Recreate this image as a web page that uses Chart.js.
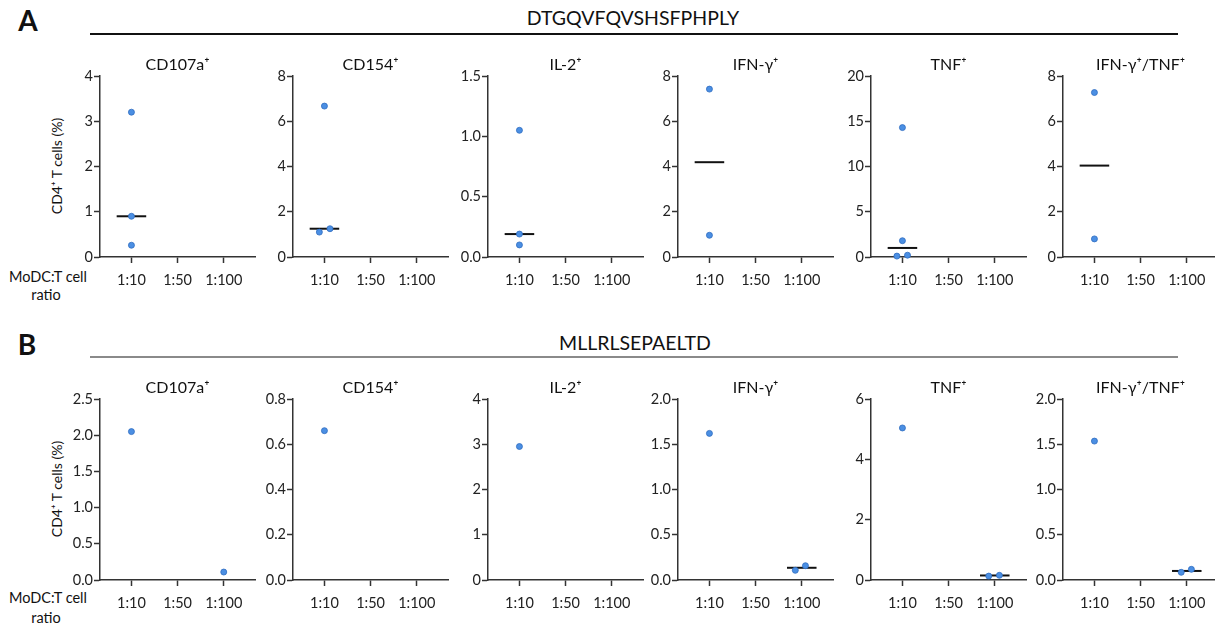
<!DOCTYPE html>
<html>
<head>
<meta charset="utf-8">
<script src="https://cdn.jsdelivr.net/npm/chart.js@4.4.1/dist/chart.umd.min.js"></script>
<style>
body { margin: 0; background: #fff; }
#fig { position: relative; width: 1215px; height: 624px; overflow: hidden; font-family: Lato, "DejaVu Sans", sans-serif; color: #111; }
.t { position: absolute; white-space: nowrap; line-height: 1; transform: translate(-50%, -50%); }
.rule { position: absolute; left: 90px; width: 1088px; height: 2px; }
canvas { position: absolute; }
</style>
</head>
<body>
<div id="fig">
  <div class="t" style="left:28px;top:20px;font-size:28px;font-weight:bold">A</div>
  <div class="t" id="pepA" style="left:633px;top:18px;font-size:19.5px"></div>
  <div class="rule" style="top:33px;background:#111"></div>
  <div class="t ytitle" style="left:57px;top:166px"></div>
  <div class="t" style="left:48px;top:277px;font-size:14.5px">MoDC:T cell</div>
  <div class="t" style="left:46px;top:295px;font-size:14.5px">ratio</div>

  <div class="t" style="left:27px;top:344px;font-size:28px;font-weight:bold">B</div>
  <div class="t" id="pepB" style="left:635px;top:343px;font-size:19.5px"></div>
  <div class="rule" style="top:356px;background:#8a8a8a"></div>
  <div class="t ytitle" style="left:57px;top:489px"></div>
  <div class="t" style="left:48px;top:598px;font-size:14.5px">MoDC:T cell</div>
  <div class="t" style="left:46px;top:618px;font-size:14.5px">ratio</div>
</div>
<script>
const ratios = ['1:10', '1:50', '1:100'];
const markers = ['CD107a⁺', 'CD154⁺', 'IL-2⁺', 'IFN-γ⁺', 'TNF⁺', 'IFN-γ⁺/TNF⁺'];
const peptides = ['DTGQVFQVSHSFPHPLY', 'MLLRLSEPAELTD'];
const yTitle = 'CD4⁺ T cells (%)';

// A: only 1:10 measured
const a_1to10 = [[3.2, 0.9, 0.26], [6.67, 1.1, 1.25], [1.05, 0.19, 0.1], [7.42, 0.96], [14.3, 1.8, 0.1, 0.2], [7.27, 0.8]];
const a_median = [0.9, 1.25, 0.19, 4.19, 1.0, 4.04];
const a_max = [4, 8, 1.5, 8, 20, 8];
const a_step = [1, 2, 0.5, 2, 5, 2];

// B: 1:10 and 1:100
const b_1to10 = [[2.05], [0.66], [2.95], [1.62], [5.04], [1.535]];
const b_1to100 = [[0.11], [], [], [0.107, 0.158], [0.13, 0.155], [0.085, 0.118]];
const b_median100 = [null, null, null, 0.135, 0.15, 0.1];
const b_max = [2.5, 0.8, 4, 2, 6, 2];
const b_step = [0.5, 0.2, 1, 0.5, 2, 0.5];

// horizontal scatter of overlapping dots (category units)
const a_spread = [[0, 0, 0], [0, -0.11, 0.12], [0, 0, 0], [0, 0], [0, 0, -0.12, 0.11], [0, 0]];
const b_spread100 = [[0], [], [], [-0.14, 0.08], [-0.13, 0.1], [-0.12, 0.1]];

const axisX = [100, 293, 488, 678, 871, 1063];
const rowTop = [50, 373];
const FONT = 'Lato, "DejaVu Sans", sans-serif';

Chart.defaults.font.family = FONT;
Chart.defaults.color = '#222';

document.getElementById('pepA').textContent = peptides[0];
document.getElementById('pepB').textContent = peptides[1];
document.querySelectorAll('.ytitle').forEach(el => {
  el.textContent = yTitle;
  el.style.fontSize = '14px';
  el.style.transform = 'translate(-50%,-50%) rotate(-90deg)';
});

const panelTitle = {
  id: 'panelTitle',
  afterDraw(chart, args, opts) {
    const { ctx, chartArea } = chart;
    ctx.save();
    ctx.font = '16px ' + FONT;
    ctx.fillStyle = '#111';
    ctx.textAlign = 'center';
    ctx.textBaseline = 'middle';
    ctx.fillText(opts.text, (chartArea.left + chartArea.right) / 2, chartArea.top - 11);
    ctx.restore();
  }
};

const axisStyle = {
  grid: { drawOnChartArea: false, drawTicks: true, tickLength: 6, tickWidth: 1.5, tickColor: '#333' },
  border: { color: '#333', width: 1.5 }
};

function makePanel(row, i, groups, max, step) {
  const canvas = document.createElement('canvas');
  canvas.width = 195;
  canvas.height = 247;
  canvas.style.left = (axisX[i] - 35) + 'px';
  canvas.style.top = rowTop[row] + 'px';
  document.getElementById('fig').appendChild(canvas);

  const dots = [];
  const lines = [];
  groups.forEach(g => {
    g.values.forEach((v, k) => dots.push({ x: g.ratio + g.spread[k], y: v }));
    if (g.median != null) {
      lines.push({
        type: 'line',
        data: [{ x: g.ratio - 0.32, y: g.median }, { x: g.ratio + 0.32, y: g.median }],
        borderColor: '#111',
        borderWidth: 2,
        pointRadius: 0,
        clip: false
      });
    }
  });

  const dec = step % 1 ? 1 : 0;
  new Chart(canvas, {
    type: 'scatter',
    data: {
      datasets: [{
        data: dots,
        pointRadius: 3,
        backgroundColor: '#4b8fe3',
        borderColor: '#2e6cc0',
        borderWidth: 0.8,
        clip: false
      }].concat(lines)
    },
    options: {
      responsive: false,
      animation: false,
      layout: { padding: { left: 1, right: 2, top: 26, bottom: 0 } },
      plugins: { legend: { display: false }, tooltip: { enabled: false }, panelTitle: { text: markers[i] } },
      scales: {
        x: Object.assign({
          type: 'linear', min: -0.681, max: 2.681,
          afterBuildTicks: s => { s.ticks = ratios.map((r, k) => ({ value: k })); },
          afterFit: s => { s.height = 40; },
          ticks: { callback: v => ratios[v], font: { size: 14.5 }, padding: 9, maxRotation: 0, autoSkip: false }
        }, axisStyle),
        y: Object.assign({
          min: 0, max: max,
          afterFit: s => { s.width = 34; },
          ticks: { stepSize: step, callback: v => v.toFixed(dec), font: { size: 14.5 }, padding: 1 }
        }, axisStyle)
      }
    },
    plugins: [panelTitle]
  });
}

for (let i = 0; i < 6; i++) {
  makePanel(0, i, [{ ratio: 0, values: a_1to10[i], spread: a_spread[i], median: a_median[i] }], a_max[i], a_step[i]);
  makePanel(1, i, [
    { ratio: 0, values: b_1to10[i], spread: b_1to10[i].map(() => 0), median: null },
    { ratio: 2, values: b_1to100[i], spread: b_spread100[i], median: b_median100[i] }
  ], b_max[i], b_step[i]);
}
</script>
</body>
</html>
